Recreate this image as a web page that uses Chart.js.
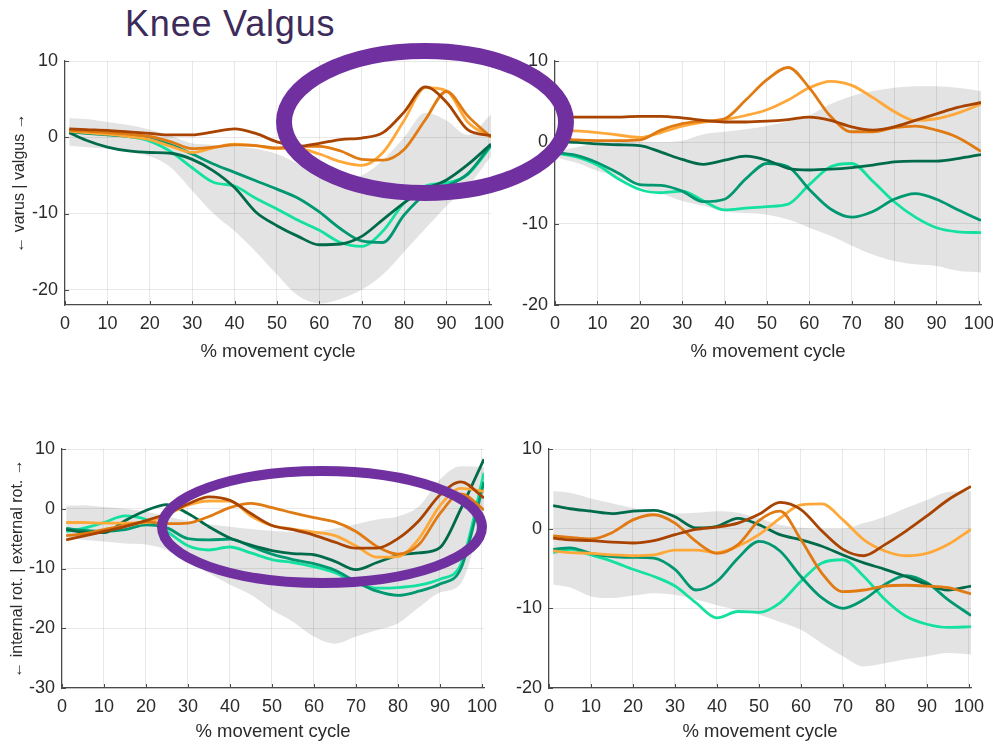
<!DOCTYPE html>
<html lang="en">
<head>
<meta charset="UTF-8">
<title>Knee Valgus</title>
<script src="https://cdn.jsdelivr.net/npm/chart.js"></script>
<style>
  html, body { margin: 0; padding: 0; background: #fff; }
  body { width: 993px; height: 744px; position: relative; overflow: hidden; font-family: "Liberation Sans", Arial, sans-serif; }
  canvas { position: absolute; }
  #title { position: absolute; left: 125px; top: 6px; font-size: 36px; line-height: 36px; letter-spacing: 0.8px; color: #3d2b5a; white-space: nowrap; }
  #marks { position: absolute; left: 0; top: 0; pointer-events: none; }
</style>
</head>
<body>
<div id="title">Knee Valgus</div>
<canvas id="p1"></canvas>
<canvas id="p2"></canvas>
<canvas id="p3"></canvas>
<canvas id="p4"></canvas>
<svg id="marks" width="993" height="744">
  <ellipse cx="425" cy="122" rx="141" ry="71" fill="none" stroke="#7030a0" stroke-width="16"/>
  <ellipse cx="322" cy="527" rx="160" ry="56" fill="none" stroke="#7030a0" stroke-width="10"/>
</svg>

<script>
// % movement cycle, shared by every curve
const pct = [1, 5, 10, 15, 20, 25, 30, 35, 40, 45, 50, 55, 60, 65, 70, 75, 80, 85, 90, 95, 100.5];
const xTicks = [0, 10, 20, 30, 40, 50, 60, 70, 80, 90, 100];

// top left: varus | valgus
const valgL_brownDark   = [1.1, 1.0, 0.9, 0.7, 0.5, 0.3, 0.3, 0.7, 1.1, 0.5, -0.6, -1.2, -0.8, -0.3, -0.1, 0.6, 3.3, 6.6, 4.6, 1.0, 0.2];
const valgL_orange      = [0.9, 0.8, 0.6, 0.4, 0.1, -0.6, -1.5, -1.3, -1.0, -1.1, -1.4, -1.2, -1.2, -1.8, -2.9, -3.0, -1.6, 2.3, 6.0, 2.8, 0.0];
const valgL_orangeLight = [0.8, 0.6, 0.4, 0.1, -0.3, -1.2, -2.0, -1.4, -0.9, -1.1, -1.5, -1.5, -2.2, -3.2, -3.7, -2.0, 2.2, 6.5, 6.1, 2.0, 0.0];
const valgL_greenDark   = [0.6, -0.4, -1.3, -1.8, -2.0, -2.1, -2.9, -4.4, -6.6, -9.8, -11.6, -13.0, -14.1, -14.0, -13.0, -10.8, -8.6, -6.8, -5.6, -3.6, -0.9];
const valgL_green       = [0.7, 0.5, 0.3, 0.1, -0.2, -1.0, -2.2, -3.5, -4.6, -5.7, -6.8, -8.0, -9.8, -12.0, -13.6, -13.8, -10.2, -7.5, -6.4, -4.8, -1.0];
const valgL_greenLight  = [0.8, 0.6, 0.4, 0.1, -0.5, -1.9, -4.0, -5.9, -6.4, -8.0, -9.4, -10.9, -12.2, -13.8, -14.3, -12.3, -8.6, -6.4, -6.0, -4.9, -1.2];
const valgL_bandHi      = [2.5, 2.4, 2.0, 1.6, 1.0, 0.2, -0.8, -1.0, -1.2, -1.5, -2.2, -3.5, -5.0, -5.5, -5.0, -3.0, 0.0, 3.2, 2.2, 0.3, 3.0];
const valgL_bandLo      = [-1.1, -1.3, -1.5, -1.9, -2.5, -4.0, -7.0, -10.0, -12.3, -15.0, -18.0, -20.8, -21.8, -21.2, -20.0, -18.0, -15.0, -12.0, -9.0, -6.5, -2.5];

// top right
const valgR_brownDark   = [3.1, 3.1, 3.1, 3.1, 3.2, 3.2, 3.0, 2.7, 2.5, 2.5, 2.6, 2.8, 3.1, 2.7, 1.9, 1.5, 1.9, 2.7, 3.5, 4.3, 4.9];
const valgR_orange      = [0.5, 0.3, 0.2, 0.2, 0.3, 1.5, 2.3, 2.6, 2.9, 5.2, 7.7, 9.2, 6.7, 3.2, 1.3, 1.3, 1.8, 2.0, 1.5, 0.6, -1.1];
const valgR_orangeLight = [1.5, 1.4, 1.2, 0.9, 0.6, 1.2, 2.0, 2.5, 2.8, 3.3, 4.0, 5.2, 6.7, 7.5, 7.0, 5.5, 3.8, 2.7, 2.9, 3.6, 4.7];
const valgR_greenDark   = [0.1, 0.0, -0.2, -0.3, -0.4, -1.2, -2.1, -2.7, -2.2, -1.7, -2.2, -3.2, -3.4, -3.3, -3.1, -2.8, -2.4, -2.3, -2.3, -2.0, -1.5];
const valgR_green       = [-1.3, -1.6, -2.5, -3.8, -5.2, -5.3, -6.0, -7.3, -7.0, -4.5, -2.6, -3.0, -5.8, -8.2, -9.2, -8.5, -7.0, -6.3, -7.0, -8.3, -9.6];
const valgR_greenLight  = [-1.4, -1.8, -2.8, -4.5, -5.8, -6.2, -6.0, -7.2, -8.3, -8.1, -7.9, -7.6, -5.2, -3.0, -2.6, -4.8, -7.3, -9.2, -10.5, -11.0, -11.1];
const valgR_bandHi      = [-1.0, -0.6, -0.1, 0.0, 0.1, 0.0, 0.2, 1.0, 1.3, 1.6, 2.0, 2.6, 3.3, 4.7, 5.7, 6.3, 6.7, 6.9, 6.9, 6.7, 6.3];
const valgR_bandLo      = [-2.0, -2.5, -3.5, -4.3, -5.5, -6.3, -7.2, -7.8, -8.5, -8.7, -8.9, -9.5, -10.5, -11.5, -12.7, -13.8, -14.6, -15.0, -15.2, -15.8, -16.0];

// bottom left: internal rot. | external rot.
const rotL_brownDark   = [-5.2, -4.6, -3.8, -3.0, -2.0, -0.8, 0.8, 2.0, 1.4, -0.8, -2.8, -3.5, -4.4, -5.6, -6.6, -6.6, -5.0, -2.0, 2.3, 4.5, 1.8];
const rotL_orange      = [-4.5, -4.2, -3.5, -2.8, -2.2, -2.5, -2.4, -1.3, 0.2, 0.9, 0.2, -0.7, -1.5, -2.2, -3.8, -6.3, -7.6, -6.0, -0.8, 2.5, -0.2];
const rotL_orangeLight = [-2.3, -2.3, -2.4, -2.4, -2.3, -1.0, 0.6, 1.3, 1.3, -1.2, -2.8, -3.4, -3.9, -4.5, -6.2, -8.1, -8.0, -5.0, 0.5, 3.4, 2.9];
const rotL_greenDark   = [-3.5, -3.9, -4.0, -2.0, -0.3, 0.7, -0.8, -3.0, -4.9, -6.1, -7.0, -7.5, -7.7, -8.8, -10.2, -9.0, -7.8, -7.4, -6.5, 0.0, 8.3];
const rotL_green       = [-3.3, -3.6, -3.8, -3.5, -2.7, -3.2, -5.0, -5.2, -5.1, -6.3, -7.6, -8.5, -9.2, -10.3, -12.2, -13.8, -14.5, -13.8, -12.6, -10.0, 4.5];
const rotL_greenLight  = [-3.8, -3.3, -2.3, -1.2, -1.8, -3.8, -6.2, -6.9, -6.4, -7.4, -8.5, -9.0, -9.7, -10.7, -12.4, -13.3, -13.2, -12.8, -11.8, -9.3, 6.0];
const rotL_bandHi      = [0.5, 0.6, 0.3, 0.0, -0.5, -1.3, -2.0, -2.6, -3.0, -3.4, -3.7, -3.9, -3.8, -3.3, -2.6, -1.8, -1.3, 0.4, 4.9, 7.1, 7.0];
const rotL_bandLo      = [-4.8, -5.2, -5.5, -5.8, -6.0, -6.9, -8.8, -10.8, -12.7, -14.4, -16.9, -18.9, -21.4, -22.6, -21.4, -20.3, -19.2, -16.5, -14.0, -12.5, 0.0];

// bottom right
const rotR_brownDark   = [-1.2, -1.4, -1.5, -1.7, -1.8, -1.5, -0.75, -0.1, 0.2, 0.7, 1.8, 3.3, 2.4, -0.3, -2.6, -3.4, -2.0, -0.3, 1.6, 3.6, 5.3];
const rotR_orange      = [-0.9, -1.1, -1.3, -0.5, 1.1, 1.75, 0.7, -1.6, -3.1, -2.0, 1.0, 2.2, -1.4, -5.6, -7.9, -7.7, -7.2, -7.1, -7.2, -7.4, -8.2];
const rotR_orangeLight = [-2.8, -3.0, -3.1, -3.3, -3.4, -3.3, -2.7, -2.7, -3.0, -2.2, -0.75, 1.3, 3.0, 3.1, 1.1, -1.4, -2.8, -3.4, -3.1, -2.0, -0.1];
const rotR_greenDark   = [2.9, 2.5, 2.2, 1.9, 2.2, 2.3, 1.5, 0.1, 0.3, 1.3, 0.5, -0.75, -1.4, -2.2, -3.3, -4.3, -5.1, -6.0, -7.0, -7.7, -7.2];
const rotR_green       = [-2.6, -2.4, -3.1, -3.5, -3.6, -3.7, -5.1, -7.7, -6.6, -3.7, -1.6, -2.8, -6.0, -8.7, -10.0, -8.9, -7.0, -5.9, -6.8, -8.9, -10.9];
const rotR_greenLight  = [-3.0, -2.6, -3.3, -4.1, -5.1, -6.0, -7.2, -9.3, -11.2, -10.4, -10.5, -9.3, -6.6, -4.3, -3.9, -6.0, -8.9, -11.0, -12.0, -12.4, -12.3];
const rotR_bandHi      = [4.7, 4.5, 3.8, 3.2, 2.6, 2.0, 1.9, 2.0, 2.2, 2.0, 1.3, 0.5, 0.1, 0.0, 0.0, 0.7, 1.5, 2.6, 3.6, 4.6, 4.7];
const rotR_bandLo      = [-7.0, -7.4, -8.5, -8.7, -8.4, -8.1, -8.3, -8.9, -9.6, -10.2, -10.8, -11.7, -12.7, -14.4, -16.0, -17.3, -16.9, -16.4, -16.0, -15.6, -15.8];

const yTicksTop = [-20, -10, 0, 10];
const yTicksRot = [-30, -20, -10, 0, 10];

const COLORS = ['#a84300', '#e07a12', '#ffa83a', '#006b4b', '#009870', '#14e0a0'];
const BAND = 'rgba(0,0,0,0.11)';
const GRID = 'rgba(0,0,0,0.09)';
const AXIS = '#4a4a4a';
const TEXT = '#2b2b2b';
const FONT = '"Liberation Sans", Arial, sans-serif';
const PAD_T = 20, PAD_R = 26;

const panels = [
  { id: 'p1', area: { l: 65, t: 61, r: 491, b: 305 }, ml: 65, mb: 60, yMin: -22, yTicks: yTicksTop,
    yTitle: '\u2190 varus | valgus \u2192', ytPad: 10, xtPad: 1.6,
    lines: [valgL_brownDark, valgL_orange, valgL_orangeLight, valgL_greenDark, valgL_green, valgL_greenLight],
    band: [valgL_bandLo, valgL_bandHi] },
  { id: 'p2', area: { l: 555, t: 61, r: 981, b: 305 }, ml: 65, mb: 60, yMin: -20, yTicks: yTicksTop,
    yTitle: '', ytPad: 0, xtPad: 1.6,
    lines: [valgR_brownDark, valgR_orange, valgR_orangeLight, valgR_greenDark, valgR_green, valgR_greenLight],
    band: [valgR_bandLo, valgR_bandHi] },
  { id: 'p3', area: { l: 62, t: 449, r: 484, b: 688 }, ml: 62, mb: 56, yMin: -30, yTicks: yTicksRot,
    yTitle: '\u2190 internal rot. | external rot. \u2192', ytPad: 8, xtPad: 0.6,
    lines: [rotL_brownDark, rotL_orange, rotL_orangeLight, rotL_greenDark, rotL_green, rotL_greenLight],
    band: [rotL_bandLo, rotL_bandHi] },
  { id: 'p4', area: { l: 549, t: 449, r: 971, b: 688 }, ml: 59, mb: 56, yMin: -20, yTicks: yTicksTop,
    yTitle: '', ytPad: 0, xtPad: 0.6,
    lines: [rotR_brownDark, rotR_orange, rotR_orangeLight, rotR_greenDark, rotR_green, rotR_greenLight],
    band: [rotR_bandLo, rotR_bandHi] }
];

function pts(ys) {
  return pct.map((x, i) => ({ x: x, y: ys[i] }));
}

// small tick marks pointing into the plot, like the original axes
const innerTicks = {
  id: 'innerTicks',
  afterDatasetsDraw(chart) {
    const { ctx, chartArea: a, scales: { x, y } } = chart;
    ctx.save();
    ctx.strokeStyle = AXIS;
    ctx.lineWidth = 1;
    ctx.beginPath();
    x.ticks.forEach(t => {
      const px = Math.round(x.getPixelForValue(t.value)) + 0.5;
      ctx.moveTo(px, a.bottom);
      ctx.lineTo(px, a.bottom - 4);
    });
    y.ticks.forEach(t => {
      const py = Math.round(y.getPixelForValue(t.value)) + 0.5;
      ctx.moveTo(a.left, py);
      ctx.lineTo(a.left + 4, py);
    });
    ctx.stroke();
    ctx.restore();
  }
};

function makePanel(p) {
  const cv = document.getElementById(p.id);
  const left = p.area.l - p.ml;
  const top = p.area.t - PAD_T;
  const w = p.area.r + PAD_R - left;
  const h = p.area.b + p.mb - top;
  cv.width = w;
  cv.height = h;
  cv.style.left = left + 'px';
  cv.style.top = top + 'px';
  cv.style.width = w + 'px';
  cv.style.height = h + 'px';

  const datasets = [
    { data: pts(p.band[0]), borderWidth: 0, pointRadius: 0, fill: false, order: 10 },
    { data: pts(p.band[1]), borderWidth: 0, pointRadius: 0, fill: '-1', backgroundColor: BAND, order: 10 }
  ];
  p.lines.forEach((ys, i) => {
    datasets.push({ data: pts(ys), borderColor: COLORS[i], borderWidth: 2.8, pointRadius: 0, fill: false, order: i });
  });

  new Chart(cv, {
    type: 'line',
    data: { datasets: datasets },
    plugins: [innerTicks],
    options: {
      responsive: false,
      animation: false,
      events: [],
      layout: { padding: { top: PAD_T, right: PAD_R, left: 0, bottom: 0 } },
      plugins: { legend: { display: false }, tooltip: { enabled: false } },
      elements: { line: { cubicInterpolationMode: 'monotone' } },
      scales: {
        x: {
          type: 'linear', min: 0, max: 100.5,
          afterBuildTicks: a => { a.ticks = xTicks.map(v => ({ value: v })); },
          afterFit: a => { a.height = p.mb; },
          grid: { color: GRID, drawTicks: false },
          border: { color: AXIS, width: 1.2 },
          ticks: { padding: 8, maxRotation: 0, color: TEXT, font: { family: FONT, size: 18 } },
          title: { display: true, text: '% movement cycle', color: TEXT,
                   font: { family: FONT, size: 18.5 }, padding: { top: 0, bottom: p.xtPad } }
        },
        y: {
          min: p.yMin, max: 10,
          afterBuildTicks: a => { a.ticks = p.yTicks.map(v => ({ value: v })); },
          afterFit: a => { a.width = p.ml; },
          grid: { color: GRID, drawTicks: false },
          border: { color: AXIS, width: 1.2 },
          ticks: { padding: 7, color: TEXT, font: { family: FONT, size: 18 } },
          title: { display: !!p.yTitle, text: p.yTitle, color: TEXT,
                   font: { family: FONT, size: 16 }, padding: { top: p.ytPad, bottom: 0 } }
        }
      }
    }
  });
}

panels.forEach(makePanel);
</script>
</body>
</html>
